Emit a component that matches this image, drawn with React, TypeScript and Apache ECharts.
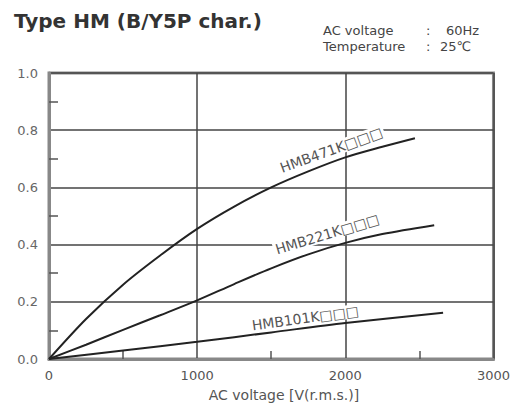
import React, { useEffect, useRef } from "react";
import * as echarts from "echarts";

const xTicks = [0, 1000, 2000, 3000];
const yTicks = [0, 0.2, 0.4, 0.6, 0.8, 1.0];

const seriesNames = ["HMB471K□□□", "HMB221K□□□", "HMB101K□□□"];

const hmb471: [number, number][] = [
  [0, 0], [250, 0.14], [500, 0.26], [750, 0.362], [1000, 0.455], [1250, 0.533], [1500, 0.6],
  [1750, 0.656], [2000, 0.705], [2250, 0.742], [2470, 0.772],
];
const hmb221: [number, number][] = [
  [0, 0], [250, 0.05], [500, 0.102], [750, 0.153], [1000, 0.205], [1250, 0.262], [1500, 0.317],
  [1750, 0.366], [2000, 0.406], [2250, 0.437], [2600, 0.468],
];
const hmb101: [number, number][] = [
  [0, 0], [500, 0.03], [1000, 0.06], [1500, 0.093], [2000, 0.126], [2660, 0.162],
];

// label anchor in data coordinates and rotation
const labelAnchors: [number, number][] = [[1905, 0.731], [1878, 0.437], [1730, 0.143]];
const labelRotations = [20, 17, 8];

const FONT = "DejaVu Sans";

export default function App() {
  const ref = useRef<HTMLDivElement>(null);
  useEffect(() => {
    if (!ref.current) return;
    const chart = echarts.init(ref.current, null, { renderer: "svg" });
    const datas = [hmb471, hmb221, hmb101];
    chart.setOption({
      animation: false,
      backgroundColor: "#fff",
      grid: {
        left: 49, right: 18, top: 73, bottom: 47,
        show: true, borderColor: "#888", borderWidth: 3, backgroundColor: "transparent",
      },
      xAxis: {
        type: "value", min: 0, max: 3000, interval: 1000,
        axisLine: { show: true, lineStyle: { color: "#888", width: 3 } },
        axisTick: { show: false, inside: true },
        minorTick: { show: true, splitNumber: 2, length: 8, lineStyle: { color: "#555", width: 1.5 } },
        splitLine: { show: true, lineStyle: { color: "#444", width: 1.5 } },
        axisLabel: {
          color: "#555", fontSize: 13, fontFamily: FONT, margin: 10,
          formatter: (v: number) => (xTicks.includes(v) ? String(v) : ""),
        },
      },
      yAxis: {
        type: "value", min: 0, max: 1.0, interval: 0.2,
        axisLine: { show: true, lineStyle: { color: "#888", width: 3 } },
        axisTick: { show: false, inside: true },
        minorTick: { show: true, splitNumber: 2, length: 9, lineStyle: { color: "#555", width: 1.5 } },
        splitLine: { show: true, lineStyle: { color: "#444", width: 1.5 } },
        axisLabel: {
          color: "#666", fontSize: 13, fontFamily: FONT, margin: 11,
          formatter: (v: number) => (yTicks.some((t) => Math.abs(t - v) < 1e-6) ? v.toFixed(1) : ""),
        },
      },
      series: datas.map((d, i) => ({
        type: "line",
        name: seriesNames[i],
        data: d,
        smooth: 0.3,
        showSymbol: false,
        symbol: "none",
        lineStyle: { color: "#222", width: 2 },
        z: 3,
        markPoint: {
          symbol: "rect",
          symbolSize: 0,
          data: [{ coord: labelAnchors[i] }],
          label: {
            show: true,
            position: "inside",
            formatter: seriesNames[i],
            rotate: labelRotations[i],
            color: "#555",
            fontSize: 14,
            fontFamily: FONT,
            backgroundColor: "#fff",
            padding: [0, 2],
          },
          z: 5,
        },
      })),
      graphic: [
        { type: "text", left: 14, top: 11, style: { text: "Type HM (B/Y5P char.)", font: `bold 20px "${FONT}"`, fill: "#333" } },
        { type: "text", x: 323, y: 30, style: { text: "AC voltage", font: `13px "${FONT}"`, fill: "#444", textVerticalAlign: "middle" } },
        { type: "text", x: 426, y: 30, style: { text: ":", font: `13px "${FONT}"`, fill: "#444", textVerticalAlign: "middle" } },
        { type: "text", x: 446, y: 30, style: { text: "60Hz", font: `13px "${FONT}"`, fill: "#444", textVerticalAlign: "middle" } },
        { type: "text", x: 323, y: 46, style: { text: "Temperature", font: `13px "${FONT}"`, fill: "#444", textVerticalAlign: "middle" } },
        { type: "text", x: 426, y: 46, style: { text: ":", font: `13px "${FONT}"`, fill: "#444", textVerticalAlign: "middle" } },
        { type: "text", x: 440, y: 46, style: { text: "25℃", font: `13px "${FONT}"`, fill: "#444", textVerticalAlign: "middle" } },
        { type: "text", x: 284, y: 395, style: { text: "AC voltage [V(r.m.s.)]", font: `14px "${FONT}"`, fill: "#555", textAlign: "center", textVerticalAlign: "middle" } },
      ],
    });
    return () => chart.dispose();
  }, []);
  return <div ref={ref} style={{ position: "fixed", left: 0, top: 0, width: 513, height: 406 }} />;
}
